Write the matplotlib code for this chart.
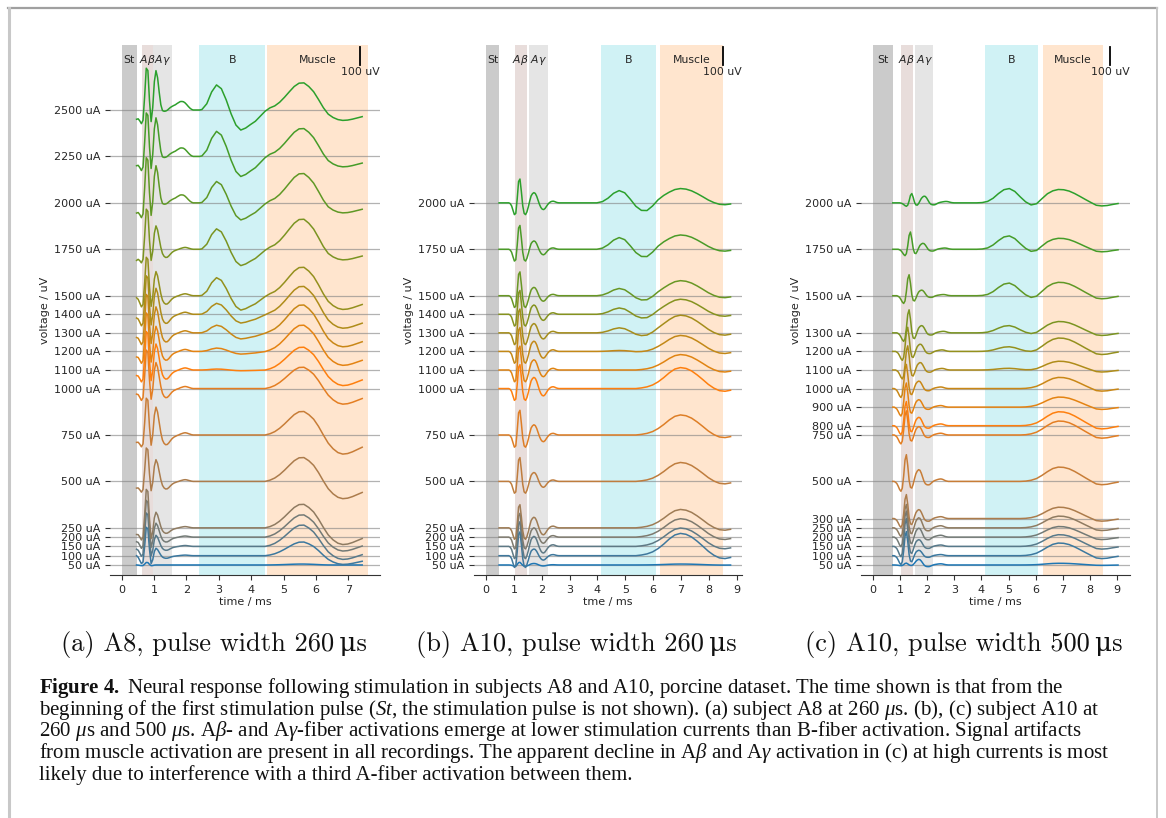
import numpy as np
import matplotlib
matplotlib.use("Agg")
import matplotlib.pyplot as plt
from matplotlib.colors import LinearSegmentedColormap
from matplotlib.lines import Line2D

# ---------------- panel (a): A8, 260 us ----------------
a_currents = [50, 100, 150, 200, 250, 500, 750, 1000, 1100, 1200, 1300, 1400, 1500, 1750, 2000, 2250, 2500]
a_head_t = np.linspace(0.46, 2.41, 40)
a_tail_t = np.linspace(2.48, 7.43, 34)
# waveform shapes (normalised), head = A fibres, tail = B / muscle
a_art = [1.0, 0.7, 0.42, 0.22, 0.1, 0.04]
a_ab = [0.0, -0.05, -0.15, -0.25, -0.2, 0.3, 0.9, 0.85, 0.2, -0.25, -0.2, -0.05]
a_ag = [0] * 9 + [0.0, 0.3, 0.78, 1.0, 0.82, 0.45, 0.08, -0.18, -0.3, -0.35, -0.34, -0.28, -0.2,
                  -0.13, -0.08, -0.05, -0.02, 0.0, 0.03, 0.05, 0.07, 0.08, 0.07, 0.05, 0.03, 0.01]
a_al = [0] * 15 + [0.1, 0.3, 0.48, 0.58, 0.6, 0.56, 0.48, 0.4, 0.35, 0.33, 0.33, 0.34, 0.33, 0.3,
                   0.25, 0.18, 0.12, 0.07, 0.03, 0.01]
a_b = [0.02, 0.25, 0.72, 1.0, 0.85, 0.4, -0.15, -0.6, -0.8, -0.72, -0.58, -0.45, -0.25, -0.05, 0.03, 0.01]
a_m = [0] * 13 + [0.0, 0.05, 0.14, 0.28, 0.46, 0.66, 0.85, 0.97, 0.98, 0.85, 0.66, 0.4, 0.16, 0.02]
a_u = [0] * 24 + [-0.05, -0.2, -0.45, -0.72, -0.92, -1.0, -0.97, -0.88, -0.76, -0.64]
# amplitudes per trace (uV)
a_amp_art = [0, 0, -15, -25, -36, -36, -40, -30, -30, -30, -25, -20, -11, -60, -55, -50, -50]
a_amp_ab = [15, 170, 200, 220, 230, 200, 220, 230, 230, 230, 230, 230, 230, 240, 270, 260, 250]
a_amp_ag = [0, 40, 60, 75, 84, 117, 150, 140, 140, 135, 140, 140, 130, 126, 200, 208, 212]
a_amp_al = [0, 0, 0, 0, 0, 0, 0, 0, 0, 0, 0, 0, 0, 0, 110, 118, 118]
a_amp_b = [0, 0, 0, 0, 0, 0, 0, 0, 5, 18, 41, 59, 97, 110, 115, 135, 135]
a_amp_m = [5, 75, 117, 122, 129, 131, 129, 117, 125, 144, 153, 153, 156, 165, 161, 153, 149]
a_amp_u = [0, 47, 70, 75, 90, 93, 103, 84, 84, 75, 75, 75, 74, 57, 54, 56, 56]
a_spans = [(0, 0.46), (0.62, 0.98), (0.98, 1.57), (2.4, 4.43), (4.48, 7.62)]

# ---------------- panel (b): A10, 260 us ----------------
b_currents = [50, 100, 150, 200, 250, 500, 750, 1000, 1100, 1200, 1300, 1400, 1500, 1750, 2000]
b_head_t = np.linspace(0.47, 2.72, 46)
b_tail_t = np.linspace(2.78, 8.78, 31)
b_ab = [0] * 8 + [-0.03, -0.12, -0.3, -0.47, -0.42, 0.15, 0.85, 0.95, 0.45, -0.12, -0.42, -0.47,
                  -0.36, -0.2, -0.08]
b_ag = [0] * 21 + [0.1, 0.38, 0.68, 0.9, 1.0, 0.92, 0.65, 0.25, -0.15, -0.45, -0.62, -0.66, -0.55,
                   -0.35, -0.15, 0.0, 0.1, 0.15, 0.16, 0.12, 0.06, 0.02]
b_b = [0] * 7 + [0.1, 0.38, 0.78, 1.0, 0.82, 0.3, -0.28, -0.65, -0.72, -0.45, -0.12]
b_m = [0] * 14 + [0.03, 0.08, 0.17, 0.32, 0.52, 0.75, 0.93, 1.0, 0.96, 0.84, 0.65, 0.43, 0.2, 0.02,
                  -0.1, -0.13, -0.08]
b_amp_ab = [15, 135, 140, 135, 131, 135, 140, 135, 135, 135, 135, 135, 135, 135, 135]
b_amp_ag = [8, 36, 54, 50, 57, 48, 55, 60, 55, 55, 50, 50, 45, 45, 55]
b_amp_b = [0, 0, 0, 0, 0, 0, 0, 0, 0, 5, 27, 34, 39, 63, 66]
b_amp_m = [5, 120, 99, 99, 99, 102, 108, 113, 83, 86, 95, 81, 81, 77, 77]
b_spans = [(0, 0.47), (1.04, 1.46), (1.54, 2.22), (4.14, 6.09), (6.26, 8.5)]

# ---------------- panel (c): A10, 500 us ----------------
c_currents = [50, 100, 150, 200, 250, 300, 500, 750, 800, 900, 1000, 1100, 1200, 1300, 1500, 1750, 2000]
c_head_t = np.linspace(0.74, 3.09, 48)
c_tail_t = np.linspace(3.23, 9.03, 30)
c_ab = [0.0, 0.0, -0.03, -0.08, -0.18, -0.3, -0.37, -0.25, 0.2, 0.8, 1.0, 0.6, 0.05, -0.22, -0.25,
        -0.15, -0.05]
c_ag = [0] * 15 + [0.1, 0.35, 0.65, 0.88, 1.0, 0.95, 0.7, 0.35, 0.0, -0.2, -0.28, -0.3, -0.28, -0.18,
                   -0.07, 0.02, 0.08, 0.12, 0.16, 0.19, 0.21, 0.2, 0.16, 0.1, 0.05, 0.02]
c_b = [0] * 4 + [0.02, 0.1, 0.32, 0.65, 0.92, 1.0, 0.8, 0.42, 0.05, -0.22, -0.25, -0.1]
c_m = [0] * 12 + [0.02, 0.08, 0.2, 0.42, 0.68, 0.9, 1.0, 0.98, 0.88, 0.7, 0.48, 0.25, 0.03, -0.18,
                  -0.23, -0.2, -0.12, -0.05]
c_lag = [0, 0, 0, 0, 0, 0, 0, 0, 0, 0, 0, 1, 1, 2, 2, 3, 4]  # A-fibre latency, in samples
c_amp_ab = [10, 130, 150, 140, 126, 129, 144, 130, 130, 130, 130, 130, 130, 124, 113, 93, 50]
c_amp_ag = [30, 29, 36, 48, 54, 48, 63, 45, 45, 40, 40, 40, 39, 39, 30, 32, 36]
c_amp_b = [0, 0, 0, 0, 0, 0, 0, 0, 0, 0, 0, 9, 25, 39, 68, 72, 77]
c_amp_m = [9, 68, 63, 57, 63, 61, 77, 75, 75, 54, 60, 47, 72, 61, 72, 59, 72]
c_spans = [(0, 0.76), (1.04, 1.47), (1.57, 2.23), (4.15, 6.09), (6.25, 8.49)]

span_names = ['St', r'$A\beta$', r'$A\gamma$', 'B', 'Muscle']
span_styles = [('tab:gray', 0.4), ('tab:brown', 0.2), ('tab:gray', 0.2), ('tab:cyan', 0.2), ('tab:orange', 0.2)]

sub_captions = ['(a) A8, pulse width 260\u2009\u03bcs',
                '(b) A10, pulse width 260\u2009\u03bcs',
                '(c) A10, pulse width 500\u2009\u03bcs']

caption_lines = [
    r"$\mathbf{Figure\ 4.}$ Neural response following stimulation in subjects A8 and A10, porcine dataset. The time shown is that from the",
    r"beginning of the first stimulation pulse ($\mathit{St}$, the stimulation pulse is not shown). (a) subject A8 at 260 $\mu$s. (b), (c) subject A10 at",
    r"260 $\mu$s and 500 $\mu$s. A$\beta$- and A$\gamma$-fiber activations emerge at lower stimulation currents than B-fiber activation. Signal artifacts",
    r"from muscle activation are present in all recordings. The apparent decline in A$\beta$ and A$\gamma$ activation in (c) at high currents is most",
    r"likely due to interference with a third A-fiber activation between them.",
]

plt.rcParams['mathtext.fontset'] = 'custom'
plt.rcParams['mathtext.rm'] = 'Liberation Serif'
plt.rcParams['mathtext.it'] = 'Liberation Serif:italic'
plt.rcParams['mathtext.bf'] = 'Liberation Serif:bold'

cmap = LinearSegmentedColormap.from_list('trace', ['tab:blue', 'tab:orange', 'tab:green'])
TXT = '#262626'


def full(vals, n):
    return np.array(list(vals) + [0.0] * (n - len(vals)), dtype=float)


def build(head_t, tail_t, head_parts, tail_parts, lags):
    traces = []
    for i in range(len(head_parts[0][1])):
        head = sum(amps[i] * full(tm, len(head_t)) for tm, amps in head_parts)
        k = lags[i]
        if k:
            head = np.concatenate([np.zeros(k), head[:-k]])
        tail = sum(amps[i] * full(tm, len(tail_t)) for tm, amps in tail_parts)
        traces.append(np.concatenate([head, tail]))
    return np.concatenate([head_t, tail_t]), traces


def draw_panel(ax, t, traces, currents, spans, bar_t, xlim, xmax_tick, xlabel):
    for (t0, t1), name, (col, al) in zip(spans, span_names, span_styles):
        ax.axvspan(t0, t1, color=col, alpha=al, lw=0)
        ax.text((t0 + t1) / 2, 2770, name, ha='center', va='center', fontsize=7.8,
                color=TXT, math_fontfamily='dejavusans')
    n = len(currents)
    for i, (c, v) in enumerate(zip(currents, traces)):
        ax.plot(t, c + v, color=cmap(i / (n - 1)), lw=1.1)
    ax.plot([bar_t, bar_t], [2740, 2840], color='k', lw=1.3)
    ax.text(bar_t, 2732, '100 uV', ha='center', va='top', fontsize=7.8, color=TXT)
    ax.set_yticks(currents)
    ax.set_yticklabels([f'{c} uA' for c in currents])
    ax.set_xticks(range(0, xmax_tick + 1))
    ax.grid(axis='y', color='0.5', lw=0.9, alpha=0.6)
    ax.set_xlim(*xlim)
    ax.set_ylim(-4, 2850)
    for s in ['left', 'top', 'right']:
        ax.spines[s].set_visible(False)
    ax.spines['bottom'].set_color('#333333')
    ax.tick_params(labelsize=8, length=3.5, colors='#333333', labelcolor=TXT)
    ax.set_xlabel(xlabel, fontsize=8, color=TXT, labelpad=2)
    ax.set_ylabel('voltage / uV', fontsize=8, color=TXT, labelpad=3)


fig = plt.figure(figsize=(11.66, 8.18), dpi=100)
W, H = 1166, 818


def box(x0, x1, y0, y1):
    return [x0 / W, 1 - y1 / H, (x1 - x0) / W, (y1 - y0) / H]


ax_a = fig.add_axes(box(110, 380, 45, 575))
ax_b = fig.add_axes(box(474, 742, 45, 575))
ax_c = fig.add_axes(box(861, 1130, 45, 575))

t_a, tr_a = build(a_head_t, a_tail_t,
                  [(a_art, a_amp_art), (a_ab, a_amp_ab), (a_ag, a_amp_ag), (a_al, a_amp_al)],
                  [(a_b, a_amp_b), (a_m, a_amp_m), (a_u, a_amp_u)], [0] * len(a_currents))
t_b, tr_b = build(b_head_t, b_tail_t, [(b_ab, b_amp_ab), (b_ag, b_amp_ag)],
                  [(b_b, b_amp_b), (b_m, b_amp_m)], [0] * len(b_currents))
t_c, tr_c = build(c_head_t, c_tail_t, [(c_ab, c_amp_ab), (c_ag, c_amp_ag)],
                  [(c_b, c_amp_b), (c_m, c_amp_m)], c_lag)

draw_panel(ax_a, t_a, tr_a, a_currents, a_spans, 7.36, (-0.36, 7.98), 7, 'time / ms')
draw_panel(ax_b, t_b, tr_b, b_currents, b_spans, 8.5, (-0.43, 9.19), 9, 'tme / ms')
draw_panel(ax_c, t_c, tr_c, c_currents, c_spans, 8.75, (-0.43, 9.47), 9, 'time / ms')

# sub-figure captions
for x, s in zip([214, 576, 964], sub_captions):
    fig.text(x / W, 1 - 645 / H, s, ha='center', va='center', fontsize=19,
             family=['cmr10', 'DejaVu Serif'], color='#111111')

# figure caption
for i, line in enumerate(caption_lines):
    fig.text(39 / W, 1 - (688 + 21.7 * i) / H, line, ha='left', va='center', fontsize=15,
             family='Liberation Serif', color='#111111')

# page frame
fig.add_artist(Line2D([8 / W, 1157 / W], [1 - 8 / H, 1 - 8 / H], transform=fig.transFigure,
                      color='#a0a0a0', lw=1.6))
fig.add_artist(Line2D([8.5 / W, 8.5 / W], [0, 1 - 8 / H], transform=fig.transFigure,
                      color='#c8c8c8', lw=2.2))
fig.add_artist(Line2D([1157 / W, 1157 / W], [0, 1 - 8 / H], transform=fig.transFigure,
                      color='#c8c8c8', lw=1.4))

fig.savefig('out.png', dpi=100)
